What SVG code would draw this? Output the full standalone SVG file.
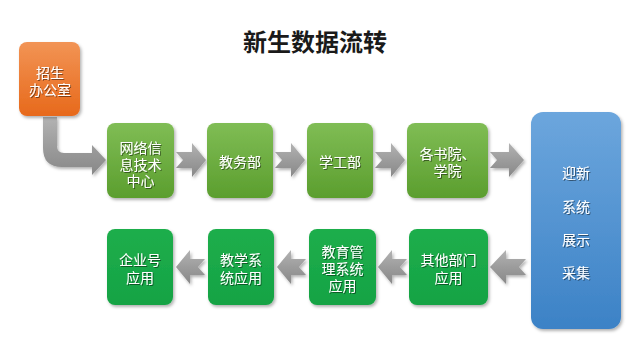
<svg xmlns="http://www.w3.org/2000/svg" width="640" height="362" viewBox="0 0 640 362">
<defs>
<linearGradient id="gOrange" x1="0" y1="0" x2="0" y2="1"><stop offset="0" stop-color="#f29455"/><stop offset="1" stop-color="#e7691b"/></linearGradient>
<linearGradient id="gGreen" x1="0" y1="0" x2="0" y2="1"><stop offset="0" stop-color="#80bd55"/><stop offset="1" stop-color="#5b9e2e"/></linearGradient>
<linearGradient id="gGreen2" x1="0" y1="0" x2="0" y2="1"><stop offset="0" stop-color="#1fae4c"/><stop offset="1" stop-color="#14a344"/></linearGradient>
<linearGradient id="gBlue" x1="0" y1="0" x2="0" y2="1"><stop offset="0" stop-color="#6ca6dd"/><stop offset="1" stop-color="#3c82c6"/></linearGradient>
<linearGradient id="gArrow" x1="0" y1="0" x2="0" y2="1"><stop offset="0" stop-color="#b3b3b3"/><stop offset="0.5" stop-color="#9c9c9c"/><stop offset="1" stop-color="#888888"/></linearGradient>
<filter id="shadow" x="-20%" y="-20%" width="150%" height="150%"><feDropShadow dx="1.5" dy="2" stdDeviation="1.5" flood-color="#000" flood-opacity="0.3"/></filter>
<filter id="tshadow" x="-20%" y="-20%" width="150%" height="150%"><feDropShadow dx="1" dy="1" stdDeviation="0.6" flood-color="#000" flood-opacity="0.45"/></filter>
</defs>
<style>
.lbl{font-family:"Noto Sans CJK SC","Noto Sans",sans-serif;font-size:14px;fill:#fff;text-anchor:middle;dominant-baseline:central;filter:url(#tshadow)}
.title{font-family:"Noto Sans CJK SC","Noto Sans",sans-serif;font-size:24px;font-weight:bold;fill:#1a1a1a;text-anchor:middle}
.box{filter:url(#shadow)}
.arr{fill:url(#gArrow);filter:url(#shadow)}
</style>
<rect width="640" height="362" fill="#ffffff"/>
<text class="title" x="315" y="51">新生数据流转</text>
<g id="connectors">
<path class="arr" d="M43,117 L57,117 L57,146 Q57,153 64,153 L92,153 L92,145 L106,160 L92,175 L92,167 L62,167 Q43,167 43,148 Z"/>
<path class="arr" d="M176,152 L192,152 L192,143 L206,160 L192,177 L192,168 L176,168 L183,160 Z"/>
<path class="arr" d="M275,152 L291,152 L291,143 L305,160 L291,177 L291,168 L275,168 L282,160 Z"/>
<path class="arr" d="M375,152 L391,152 L391,143 L405,160 L391,177 L391,168 L375,168 L382,160 Z"/>
<path class="arr" d="M490,152 L509,152 L509,143 L524,160 L509,177 L509,168 L490,168 L497,160 Z"/>
<path class="arr" d="M526,259 L506,259 L506,250 L490,267 L506,284 L506,275 L526,275 L519,267 Z"/>
<path class="arr" d="M407,259 L392,259 L392,250 L378,267 L392,284 L392,275 L407,275 L400,267 Z"/>
<path class="arr" d="M306,259 L291,259 L291,250 L277,267 L291,284 L291,275 L306,275 L299,267 Z"/>
<path class="arr" d="M205,259 L190,259 L190,250 L176,267 L190,284 L190,275 L205,275 L198,267 Z"/>
</g>
<g id="n-zhaosheng">
<rect class="box" x="19" y="42" width="61" height="74" rx="8" fill="url(#gOrange)"/>
<text class="lbl" x="50" y="72">招生</text>
<text class="lbl" x="50" y="89">办公室</text>
</g>
<g id="n-wangluo">
<rect class="box" x="107" y="123" width="67" height="75" rx="8" fill="url(#gGreen)"/>
<text class="lbl" x="140.5" y="147">网络信</text>
<text class="lbl" x="140.5" y="163.5">息技术</text>
<text class="lbl" x="140.5" y="180">中心</text>
</g>
<g id="n-jiaowu">
<rect class="box" x="207" y="123" width="66" height="75" rx="8" fill="url(#gGreen)"/>
<text class="lbl" x="240" y="161">教务部</text>
</g>
<g id="n-xuegong">
<rect class="box" x="307" y="123" width="66" height="75" rx="8" fill="url(#gGreen)"/>
<text class="lbl" x="340" y="161">学工部</text>
</g>
<g id="n-shuyuan">
<rect class="box" x="407" y="123" width="81" height="75" rx="8" fill="url(#gGreen)"/>
<text class="lbl" x="447.5" y="153">各书院、</text>
<text class="lbl" x="447.5" y="170">学院</text>
</g>
<g id="n-yingxin">
<rect class="box" x="531" y="112" width="90" height="217" rx="12" fill="url(#gBlue)"/>
<text class="lbl" x="576" y="172">迎新</text>
<text class="lbl" x="576" y="206">系统</text>
<text class="lbl" x="576" y="239">展示</text>
<text class="lbl" x="576" y="272">采集</text>
</g>
<g id="n-qita">
<rect class="box" x="409" y="229" width="79" height="76" rx="8" fill="url(#gGreen2)"/>
<text class="lbl" x="448.5" y="259">其他部门</text>
<text class="lbl" x="448.5" y="277">应用</text>
</g>
<g id="n-jiaoyu">
<rect class="box" x="309" y="229" width="67" height="76" rx="8" fill="url(#gGreen2)"/>
<text class="lbl" x="342.5" y="251">教育管</text>
<text class="lbl" x="342.5" y="268">理系统</text>
<text class="lbl" x="342.5" y="285">应用</text>
</g>
<g id="n-jiaoxue">
<rect class="box" x="208" y="229" width="66" height="76" rx="8" fill="url(#gGreen2)"/>
<text class="lbl" x="241" y="259">教学系</text>
<text class="lbl" x="241" y="277">统应用</text>
</g>
<g id="n-qiye">
<rect class="box" x="107" y="229" width="66" height="76" rx="8" fill="url(#gGreen2)"/>
<text class="lbl" x="140" y="259">企业号</text>
<text class="lbl" x="140" y="277">应用</text>
</g>
</svg>
